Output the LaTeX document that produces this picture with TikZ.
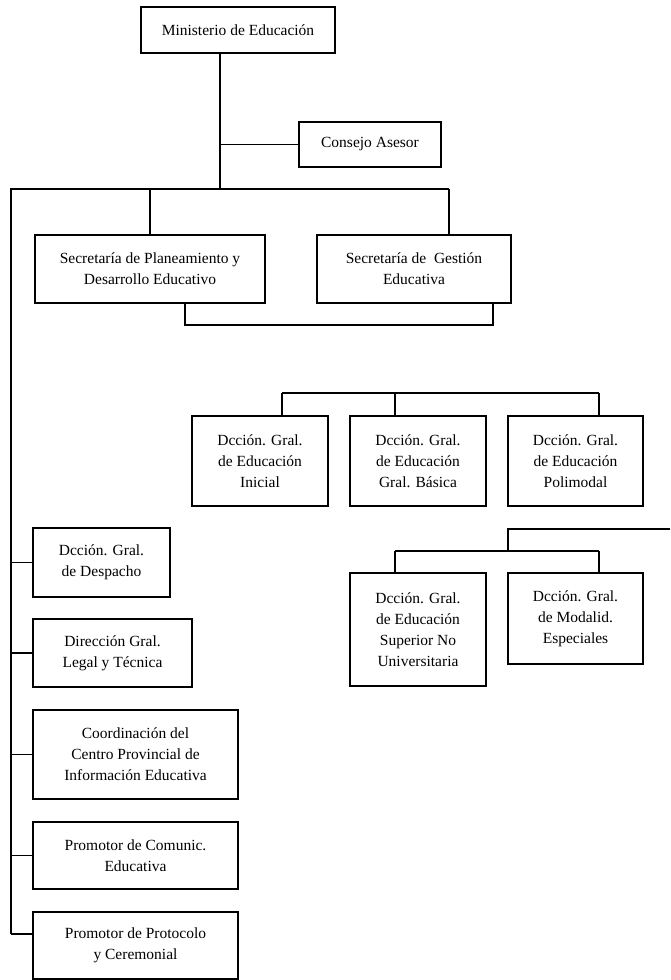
\documentclass[tikz,border=0pt]{standalone}
\usepackage{fontspec}
\setmainfont{Liberation Serif}
\begin{document}
\begin{tikzpicture}[x=1pt,y=-1pt,
  box/.style={draw, line width=1.8pt, align=center, inner sep=0pt,
    font=\fontsize{15.5}{21}\selectfont},
  conn/.style={line width=1.8pt}]
\useasboundingbox (0,0) rectangle (670,980);
% boxes
\node[box, minimum width=194, minimum height=46] (min) at (238,30) {Ministerio de Educación};
\node[box, minimum width=142, minimum height=45] (cons) at (370,144.5) {Consejo Asesor};
\node[box, minimum width=230, minimum height=68] (secp) at (150,269) {Secretaría de Planeamiento y\\Desarrollo Educativo};
\node[box, minimum width=194, minimum height=68] (secg) at (414,269) {Secretaría de~ Gestión\\Educativa};
\node[box, minimum width=136, minimum height=90] (ini) at (260,461) {Dcción. Gral.\\de Educación\\Inicial};
\node[box, minimum width=136, minimum height=90] (bas) at (418,461) {Dcción. Gral.\\de Educación\\Gral. Básica};
\node[box, minimum width=135, minimum height=90] (pol) at (575.5,461) {Dcción. Gral.\\de Educación\\Polimodal};
\node[box, minimum width=136, minimum height=113] (sup) at (418,629.5) {Dcción. Gral.\\de Educación\\Superior No\\Universitaria};
\node[box, minimum width=135, minimum height=91] (mod) at (575.5,618.5) {Dcción. Gral.\\de Modalid.\\Especiales};
\node[box, minimum width=137, minimum height=69] (desp) at (101.5,562.5) {Dcción. Gral.\\de Despacho};
\node[box, minimum width=159, minimum height=68] (legal) at (112.5,653) {Dirección Gral.\\Legal y Técnica};
\node[box, minimum width=205, minimum height=89] (coord) at (135.5,754.5) {Coordinación del\\Centro Provincial de\\Información Educativa};
\node[box, minimum width=205, minimum height=67] (comun) at (135.5,855.5) {Promotor de Comunic.\\Educativa};
\node[box, minimum width=205, minimum height=67] (proto) at (135.5,945.5) {Promotor de Protocolo\\y Ceremonial};
% junction coordinates
\coordinate (j1) at (220,189);
\coordinate (jl) at (11,189);
\coordinate (jr) at (449,189);
\coordinate (jbot) at (11,934);
\coordinate (b1) at (185,325);
\coordinate (b2) at (493,325);
\coordinate (g1a) at (282,393);
\coordinate (g1b) at (395,393);
\coordinate (g1c) at (599,393);
\coordinate (g2e) at (670,529);
\coordinate (g2m) at (508,529);
\coordinate (g2j) at (508,551);
\coordinate (g2a) at (395,551);
\coordinate (g2c) at (599,551);
% connectors
\draw[conn] (min.south -| j1) -- (j1);
\draw[conn] (j1 |- cons.west) -- (cons.west);
\draw[conn] (jbot) -- (jl) -- (jr);
\draw[conn] (secp.north) -- (secp.north |- j1);
\draw[conn] (jr) -- (secg.north -| jr);
\draw[conn] (secp.south -| b1) -- (b1) -- (b2) -- (secg.south -| b2);
\draw[line width=2.4pt] (413,325) -- (484,325);
\draw[conn] (g1a) -- (g1c);
\draw[conn] (g1a) -- (ini.north -| g1a);
\draw[conn] (g1b) -- (bas.north -| g1b);
\draw[conn] (g1c) -- (pol.north -| g1c);
\draw[conn] (g2e) -- (g2m) -- (g2j);
\draw[conn] (g2a) -- (g2c);
\draw[conn] (g2a) -- (sup.north -| g2a);
\draw[conn] (g2c) -- (mod.north -| g2c);
\draw[conn] (jl |- desp.west) -- (desp.west);
\draw[conn] (jl |- legal.west) -- (legal.west);
\draw[conn] (jl |- coord.west) -- (coord.west);
\draw[conn] (jl |- comun.west) -- (comun.west);
\draw[conn] (jbot) -- (jbot -| proto.west);
\end{tikzpicture}
\end{document}
